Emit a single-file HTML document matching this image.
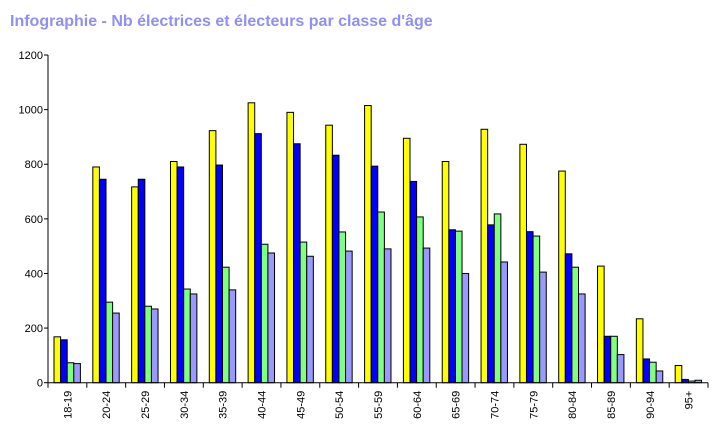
<!DOCTYPE html>
<html><head><meta charset="utf-8"><style>
body{margin:0;background:#fff;width:728px;height:426px;overflow:hidden}
svg{font-family:"Liberation Sans",Arial,sans-serif}
</style></head><body>
<svg width="728" height="426">
<text x="10" y="26" font-size="16" font-weight="bold" fill="#8f8ff5">Infographie - Nb électrices et électeurs par classe d'âge</text>
<g id="plot"></g>
</svg>
<script>
const categories=["18-19","20-24","25-29","30-34","35-39","40-44","45-49","50-54","55-59","60-64","65-69","70-74","75-79","80-84","85-89","90-94","95+"];
const seriesYellow=[168,790,717,810,923,1025,990,943,1015,895,810,928,873,775,427,234,63];
const seriesBlue=[157,745,745,790,797,912,875,833,793,737,560,578,553,472,170,87,12];
const seriesGreen=[73,295,280,343,423,507,515,552,625,607,555,618,537,423,170,75,6];
const seriesLilac=[70,255,270,325,340,475,463,482,490,493,400,442,405,325,103,43,9];
const yTicks=[0,200,400,600,800,1000,1200];
const colors=["#ffff00","#0000ff","#80ff80","#9999ff"];
const names=["yellow","blue","green","lilac"];
const NS="http://www.w3.org/2000/svg";
const g=document.getElementById('plot');
const x0=48,x1=708,y0=382.7,y1=55,ymax=1200;
const cw=(x1-x0)/categories.length;
const ys=v=>y0-(v/ymax)*(y0-y1);
function mk(t,a){const e=document.createElementNS(NS,t);for(const k in a)e.setAttribute(k,a[k]);g.appendChild(e);return e;}
[seriesYellow,seriesBlue,seriesGreen,seriesLilac].forEach((s,si)=>{
 s.forEach((v,i)=>{
  const bx=x0+i*cw+6+si*6.6;
  const r=mk('rect',{x:bx,y:ys(v),width:6.6,height:y0-ys(v),fill:colors[si],stroke:'#000','stroke-width':1});
  
  
 });
});
let a=mk('line',{x1:x0,y1:y1,x2:x0,y2:y0,stroke:'#000'});


a=mk('line',{x1:x0,y1:y0,x2:x1,y2:y0,stroke:'#000'});


yTicks.forEach(t=>{
 const y=ys(t);
 mk('line',{x1:x0-4,y1:y,x2:x0,y2:y,stroke:'#000'});
 const tx=mk('text',{x:x0-5,y:y+4,'font-size':11,'text-anchor':'end'});
 tx.textContent=t;
 
 
});
for(let i=0;i<=categories.length;i++){const x=x0+i*cw;mk('line',{x1:x,y1:y0,x2:x,y2:y0+5,stroke:'#000'});}
categories.forEach((c,i)=>{
 const cx=x0+(i+0.5)*cw;
 const tx=mk('text',{transform:`translate(${cx+4},${y0+8}) rotate(-90)`,'font-size':11,'text-anchor':'end'});
 tx.textContent=c;
 
 
});
</script>
</body></html>
